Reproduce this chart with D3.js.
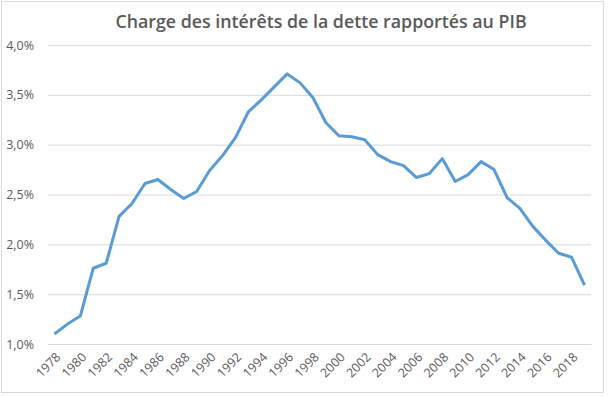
<!DOCTYPE html>
<html>
<head>
<meta charset="utf-8">
<script src="https://cdn.jsdelivr.net/npm/d3@7"></script>
<style>
  body { margin: 0; background: #fff; }
  text { font-family: "Open Sans", "Liberation Sans", sans-serif; fill: #595959; }
</style>
</head>
<body>
<svg id="chart" width="608" height="397"></svg>
<script>
// années et charge des intérêts (% du PIB)
const years = d3.range(1978, 2020);
const values = [
  1.10, 1.20, 1.28, 1.76, 1.81, 2.28, 2.41, 2.61, 2.65, 2.55,
  2.46, 2.53, 2.74, 2.89, 3.07, 3.33, 3.45, 3.58, 3.71, 3.62,
  3.47, 3.22, 3.09, 3.08, 3.05, 2.90, 2.83, 2.79, 2.67, 2.71,
  2.86, 2.63, 2.70, 2.83, 2.75, 2.47, 2.36, 2.18, 2.04, 1.91,
  1.87, 1.59
];
const yTicks = [1.0, 1.5, 2.0, 2.5, 3.0, 3.5, 4.0];
const titleText = "Charge des intérêts de la dette rapportés au PIB";

const margin = { top: 45, right: 17, bottom: 53, left: 48 };
const width = 608 - margin.left - margin.right;
const height = 397 - margin.top - margin.bottom;

const svg = d3.select('#chart');

// cadre du graphique
svg.append('rect')
  .attr('x', 1.5).attr('y', 1.5)
  .attr('width', 602).attr('height', 391)
  .attr('fill', 'none')
  .attr('stroke', '#d9d9d9');

svg.append('text')
  .attr('x', 321).attr('y', 28)
  .attr('text-anchor', 'middle')
  .style('font-size', '17.8px')
  .style('font-weight', 600)
  .text(titleText);

const g = svg.append('g')
  .attr('transform', `translate(${margin.left},${margin.top})`);

const x = d3.scaleBand().domain(years).range([0, width]);
const y = d3.scaleLinear().domain([1, 4]).range([height, 0]);

// grille + axe Y
const yAxis = g.append('g')
  .call(d3.axisLeft(y).tickValues(yTicks)
    .tickSize(-width).tickPadding(14)
    .tickFormat(d => d3.format('.1f')(d).replace('.', ',') + '%'));
yAxis.select('.domain').remove();
yAxis.selectAll('line').attr('stroke', '#d9d9d9');
yAxis.selectAll('text').style('font-size', '12.5px').attr('fill', '#595959');

// axe X, une étiquette sur deux
const xAxis = g.append('g')
  .attr('transform', `translate(0,${height})`)
  .call(d3.axisBottom(x).tickValues(years.filter(d => (d - 1978) % 2 === 0))
    .tickSize(0).tickPadding(6));
xAxis.select('.domain').attr('stroke', '#d9d9d9');
xAxis.selectAll('text')
  .style('font-size', '12.5px')
  .attr('fill', '#595959')
  .attr('text-anchor', 'end')
  .attr('dx', '-0.4em')
  .attr('dy', '0.7em')
  .attr('transform', 'rotate(-45)');

const line = d3.line()
  .x((d, i) => x(years[i]) + x.bandwidth() / 2)
  .y(d => y(d));

g.append('path')
  .datum(values)
  .attr('fill', 'none')
  .attr('stroke', '#5b9bd5')
  .attr('stroke-width', 3)
  .attr('stroke-linejoin', 'round')
  .attr('d', line);
</script>
</body>
</html>
